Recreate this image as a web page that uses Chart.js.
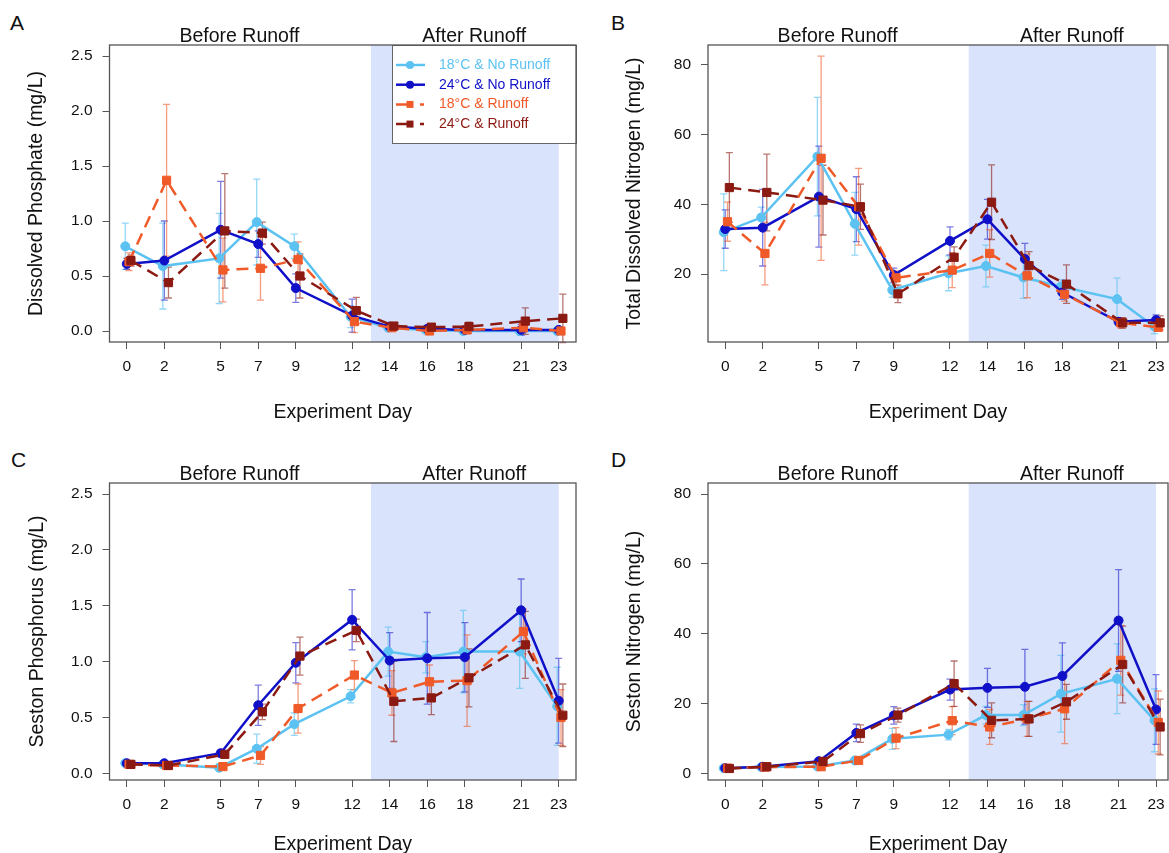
<!DOCTYPE html>
<html>
<head>
<meta charset="utf-8">
<script src="https://cdn.jsdelivr.net/npm/chart.js@4.4.1/dist/chart.umd.min.js"></script>
<style>
  html, body { margin: 0; padding: 0; background: #fff; overflow: hidden; }
  body { width: 1169px; height: 853px; position: relative; font-family: "Liberation Sans", Arial, sans-serif; }
  canvas { position: absolute; }
  .tag { position: absolute; font-size: 21px; line-height: 1; color: #111; }
</style>
</head>
<body>
<div class="tag" style="left:10px;top:12px">A</div>
<div class="tag" style="left:611px;top:12px">B</div>
<div class="tag" style="left:11px;top:449px">C</div>
<div class="tag" style="left:611px;top:449px">D</div>

<canvas id="panelA" width="590" height="430" style="left:0;top:0"></canvas>
<canvas id="panelB" width="600" height="430" style="left:590px;top:0"></canvas>
<canvas id="panelC" width="590" height="440" style="left:0;top:430px"></canvas>
<canvas id="panelD" width="600" height="440" style="left:590px;top:430px"></canvas>

<script>
// ---- data ----
const DAYS = [0, 2, 5, 7, 9, 12, 14, 16, 18, 21, 23];
const SERIES_NAMES = ["18°C & No Runoff", "24°C & No Runoff", "18°C & Runoff", "24°C & Runoff"];
const PERIOD_LABELS = ["Before Runoff", "After Runoff"];
const RUNOFF_WINDOW = [13, 23];

const PHOS_TICKS = [0, 0.5, 1, 1.5, 2, 2.5];
const TDN_TICKS = [20, 40, 60, 80];
const SESTON_N_TICKS = [0, 20, 40, 60, 80];

// A: dissolved phosphate (mg/L), means and error
const dp18nr = [0.77, 0.59, 0.66, 0.99, 0.77, 0.13, 0.03, 0.01, 0.0, 0.0, 0.0];
const dp18nrErr = [0.21, 0.39, 0.41, 0.39, 0.11, 0.10, 0.02, 0.02, 0.01, 0.02, 0.01];
const dp24nr = [0.61, 0.64, 0.92, 0.79, 0.39, 0.14, 0.04, 0.02, 0.01, 0.01, 0.01];
const dp24nrErr = [0.05, 0.36, 0.44, 0.12, 0.13, 0.15, 0.02, 0.02, 0.02, 0.05, 0.02];
const dp18r = [0.63, 1.37, 0.555, 0.57, 0.65, 0.085, 0.03, 0.0, 0.01, 0.03, 0.0];
const dp18rErr = [0.08, 0.69, 0.29, 0.29, 0.16, 0.10, 0.03, 0.02, 0.02, 0.04, 0.02];
const dp24r = [0.64, 0.44, 0.91, 0.89, 0.50, 0.185, 0.045, 0.035, 0.04, 0.09, 0.115];
const dp24rErr = [0.05, 0.14, 0.52, 0.10, 0.20, 0.12, 0.03, 0.03, 0.04, 0.12, 0.22];

// B: total dissolved nitrogen (mg/L)
const tdn18nr = [32.0, 36.2, 53.7, 34.4, 15.4, 20.2, 22.3, 19.0, 16.4, 12.8, 4.9];
const tdn18nrErr = [11, 3, 17, 9, 2, 5, 6, 6, 2, 6, 2];
const tdn24nr = [32.9, 33.3, 42.2, 38.6, 19.7, 29.5, 35.7, 24.3, 14.7, 6.3, 6.8];
const tdn24nrErr = [5.5, 11, 14.5, 9.3, 2, 4, 5.7, 4.5, 2, 1, 1.5];
const tdn18r = [35.0, 25.9, 53.2, 39.3, 18.9, 21.1, 25.9, 19.5, 14.2, 6.0, 4.7];
const tdn18rErr = [5.6, 9, 29.3, 11, 2, 5, 6.8, 6.3, 2, 1.5, 1];
const tdn24r = [44.8, 43.4, 41.2, 39.3, 14.3, 24.8, 40.6, 22.4, 17.1, 6.0, 6.0];
const tdn24rErr = [10, 11, 10, 6.5, 2.5, 3, 10.7, 4, 5.5, 1.5, 2];

// C: seston phosphorus (mg/L)
const sp18nr = [0.09, 0.08, 0.05, 0.22, 0.44, 0.69, 1.09, 1.04, 1.09, 1.09, 0.60];
const sp18nrErr = [0.02, 0.02, 0.02, 0.13, 0.10, 0.06, 0.22, 0.14, 0.37, 0.33, 0.35];
const sp24nr = [0.09, 0.09, 0.18, 0.61, 0.99, 1.375, 1.01, 1.03, 1.04, 1.46, 0.65];
const sp24nrErr = [0.02, 0.02, 0.03, 0.18, 0.18, 0.27, 0.25, 0.41, 0.31, 0.28, 0.38];
const sp18r = [0.08, 0.07, 0.06, 0.16, 0.58, 0.88, 0.72, 0.82, 0.83, 1.27, 0.50];
const sp18rErr = [0.02, 0.02, 0.02, 0.08, 0.22, 0.13, 0.20, 0.15, 0.41, 0.20, 0.25];
const sp24r = [0.08, 0.07, 0.17, 0.55, 1.05, 1.28, 0.645, 0.675, 0.855, 1.15, 0.52];
const sp24rErr = [0.02, 0.02, 0.03, 0.07, 0.17, 0.10, 0.36, 0.15, 0.26, 0.30, 0.28];

// D: seston nitrogen (mg/L)
const sn18nr = [1.5, 1.8, 2.0, 3.7, 9.9, 11.1, 16.7, 16.7, 22.8, 27.1, 15.2];
const sn18nrErr = [0.3, 0.3, 0.4, 0.8, 3, 1.5, 2.5, 3, 11, 10, 9];
const sn24nr = [1.5, 1.9, 3.5, 11.6, 16.6, 24.0, 24.5, 24.8, 27.9, 43.8, 18.3];
const sn24nrErr = [0.3, 0.3, 0.6, 2.5, 2.5, 3, 5.6, 10.7, 9.5, 14.6, 10];
const sn18r = [1.5, 1.8, 1.9, 3.7, 10.1, 15.1, 13.3, 15.6, 18.5, 32.4, 14.6];
const sn18rErr = [0.3, 0.3, 0.4, 0.8, 3, 4, 5, 5, 10, 10, 9];
const sn24r = [1.4, 1.9, 3.4, 11.4, 16.7, 25.7, 15.2, 15.6, 20.5, 31.2, 13.3];
const sn24rErr = [0.3, 0.3, 0.6, 2.5, 2, 6.5, 5, 5, 5, 11, 8];

// ---- styling ----
const FONT = "'Liberation Sans', Arial, Helvetica, sans-serif";
Chart.defaults.font.family = FONT;
Chart.defaults.color = "#111";

const STYLE = [
  { color: "#5bc2f2", err: "rgba(91,194,242,0.65)", dash: [], point: "circle", r: 4.5, dodge: -0.08, order: 3 },
  { color: "#1010c8", err: "rgba(16,16,200,0.55)", dash: [], point: "circle", r: 4.5, dodge: 0, order: 2 },
  { color: "#f05a28", err: "rgba(240,90,40,0.6)", dash: [12, 7], point: "rect", r: 5.8, dodge: 0.12, order: 1 },
  { color: "#8b1a12", err: "rgba(139,26,18,0.6)", dash: [12, 7], point: "rect", r: 5.8, dodge: 0.22, order: 0 }
];

// shading, headings, error bars, frame and legend
const decor = {
  id: "decor",
  beforeDraw(chart) {
    const { ctx, chartArea: a, scales: { x } } = chart;
    const x0 = x.getPixelForValue(RUNOFF_WINDOW[0]);
    const x1 = x.getPixelForValue(RUNOFF_WINDOW[1]);
    ctx.save();
    ctx.fillStyle = "#d9e3fb";
    ctx.fillRect(x0, a.top, x1 - x0, a.bottom - a.top);
    ctx.fillStyle = "#111";
    ctx.font = "19.5px " + FONT;
    ctx.textAlign = "center";
    ctx.textBaseline = "alphabetic";
    ctx.fillText(PERIOD_LABELS[0], x.getPixelForValue(6), a.top - 3);
    ctx.fillText(PERIOD_LABELS[1], x.getPixelForValue(18.5), a.top - 3);
    ctx.restore();
  },
  beforeDatasetsDraw(chart) {
    const { ctx, scales: { x, y } } = chart;
    ctx.save();
    ctx.lineWidth = 1.3;
    chart.data.datasets.forEach(ds => {
      ctx.strokeStyle = ds.errColor;
      ds.data.forEach((p, i) => {
        const px = x.getPixelForValue(p.x);
        const top = y.getPixelForValue(p.y + ds.err[i]);
        const bot = y.getPixelForValue(p.y - ds.err[i]);
        ctx.beginPath();
        ctx.moveTo(px, top); ctx.lineTo(px, bot);
        ctx.moveTo(px - 3.5, top); ctx.lineTo(px + 3.5, top);
        ctx.moveTo(px - 3.5, bot); ctx.lineTo(px + 3.5, bot);
        ctx.stroke();
      });
    });
    ctx.restore();
  },
  afterDraw(chart, args, opts) {
    const { ctx, chartArea: a } = chart;
    ctx.save();
    if (opts.legend) {
      const lx = 392, ly = a.top, lw = a.right - 392, lh = 98;
      ctx.fillStyle = "#fff";
      ctx.fillRect(lx, ly, lw, lh);
      ctx.strokeStyle = "#666";
      ctx.lineWidth = 1;
      ctx.strokeRect(lx + 0.5, ly + 0.5, lw, lh);
      ctx.font = "14px " + FONT;
      ctx.textBaseline = "middle";
      ctx.textAlign = "left";
      SERIES_NAMES.forEach((name, i) => {
        const st = STYLE[i];
        const yy = ly + 20 + i * 19.7;
        ctx.strokeStyle = st.color;
        ctx.fillStyle = st.color;
        ctx.lineWidth = 2.5;
        ctx.beginPath();
        if (st.point === "circle") {
          ctx.moveTo(396, yy); ctx.lineTo(425, yy);
          ctx.stroke();
          ctx.beginPath(); ctx.arc(410, yy, 4, 0, Math.PI * 2); ctx.fill();
        } else {
          ctx.moveTo(396, yy); ctx.lineTo(413, yy);
          ctx.moveTo(420, yy); ctx.lineTo(424, yy);
          ctx.stroke();
          ctx.fillRect(406.5, yy - 3.5, 7, 7);
        }
        ctx.fillText(name, 439, yy);
      });
    }
    ctx.strokeStyle = "#555";
    ctx.lineWidth = 1.3;
    ctx.strokeRect(a.left, a.top, a.right - a.left, a.bottom - a.top);
    ctx.restore();
  }
};

function makePanel(id, p) {
  const canvas = document.getElementById(id);
  const W = canvas.width, H = canvas.height;
  const datasets = p.series.map((vals, i) => {
    const st = STYLE[i];
    return {
      label: SERIES_NAMES[i],
      data: vals.map((v, j) => ({ x: DAYS[j] + st.dodge, y: v })),
      err: p.errors[i],
      errColor: st.err,
      borderColor: st.color,
      backgroundColor: st.color,
      borderWidth: 2.5,
      borderDash: st.dash,
      pointStyle: st.point,
      pointRadius: st.r,
      pointBorderWidth: 1,
      pointBackgroundColor: st.color,
      pointBorderColor: st.color,
      tension: 0,
      order: st.order
    };
  });

  return new Chart(canvas, {
    type: "line",
    data: { datasets },
    plugins: [decor],
    options: {
      responsive: false,
      animation: false,
      devicePixelRatio: 1,
      layout: { padding: { top: p.box.t, right: W - p.box.r, left: 0, bottom: 0 } },
      plugins: {
        legend: { display: false },
        tooltip: { enabled: false },
        decor: { legend: !!p.legend }
      },
      scales: {
        x: {
          type: "linear",
          min: -0.92,
          max: p.xMax,
          afterBuildTicks: s => { s.ticks = DAYS.map(v => ({ value: v })); },
          afterFit: s => { s.height = H - p.box.b; },
          grid: { drawOnChartArea: false, tickLength: 7, color: "#555" },
          border: { display: false },
          ticks: { font: { size: 15.5 }, color: "#111", padding: 8, autoSkip: false, maxRotation: 0,
                   callback: v => String(v) },
          title: { display: true, text: "Experiment Day", font: { size: 19.5 }, color: "#111",
                   padding: { top: 0, bottom: p.xTitlePad } }
        },
        y: {
          type: "linear",
          min: p.yMin,
          max: p.yMax,
          afterBuildTicks: s => { s.ticks = p.yTicks.map(v => ({ value: v })); },
          afterFit: s => { s.width = p.box.l; },
          grid: { drawOnChartArea: false, tickLength: 7, color: "#555" },
          border: { display: false },
          ticks: { font: { size: 15.5 }, color: "#111", padding: 10,
                   callback: v => v.toFixed(p.decimals) },
          title: { display: true, text: p.yTitle, font: { size: 19.5 }, color: "#111",
                   padding: { top: p.yTitlePad, bottom: 0 } }
        }
      }
    }
  });
}

makePanel("panelA", {
  box: { l: 109.5, t: 45, r: 576, b: 342 },
  xMax: 23.92, yMin: -0.1, yMax: 2.6, yTicks: PHOS_TICKS, decimals: 1,
  yTitle: "Dissolved Phosphate (mg/L)", yTitlePad: 24.8, xTitlePad: 6,
  series: [dp18nr, dp24nr, dp18r, dp24r],
  errors: [dp18nrErr, dp24nrErr, dp18rErr, dp24rErr],
  legend: true
});

makePanel("panelB", {
  box: { l: 118, t: 45, r: 578, b: 342 },
  xMax: 23.64, yMin: 0.5, yMax: 85.7, yTicks: TDN_TICKS, decimals: 0,
  yTitle: "Total Dissolved Nitrogen (mg/L)", yTitlePad: 33.3, xTitlePad: 6,
  series: [tdn18nr, tdn24nr, tdn18r, tdn24r],
  errors: [tdn18nrErr, tdn24nrErr, tdn18rErr, tdn24rErr]
});

makePanel("panelC", {
  box: { l: 109.5, t: 53, r: 576, b: 350 },
  xMax: 23.92, yMin: -0.06, yMax: 2.6, yTicks: PHOS_TICKS, decimals: 1,
  yTitle: "Seston Phosphorus (mg/L)", yTitlePad: 25.8, xTitlePad: 14,
  series: [sp18nr, sp24nr, sp18r, sp24r],
  errors: [sp18nrErr, sp24nrErr, sp18rErr, sp24rErr]
});

makePanel("panelD", {
  box: { l: 118, t: 53, r: 578, b: 350 },
  xMax: 23.64, yMin: -1.9, yMax: 83.2, yTicks: SESTON_N_TICKS, decimals: 0,
  yTitle: "Seston Nitrogen (mg/L)", yTitlePad: 33.3, xTitlePad: 14,
  series: [sn18nr, sn24nr, sn18r, sn24r],
  errors: [sn18nrErr, sn24nrErr, sn18rErr, sn24rErr]
});
</script>
</body>
</html>
